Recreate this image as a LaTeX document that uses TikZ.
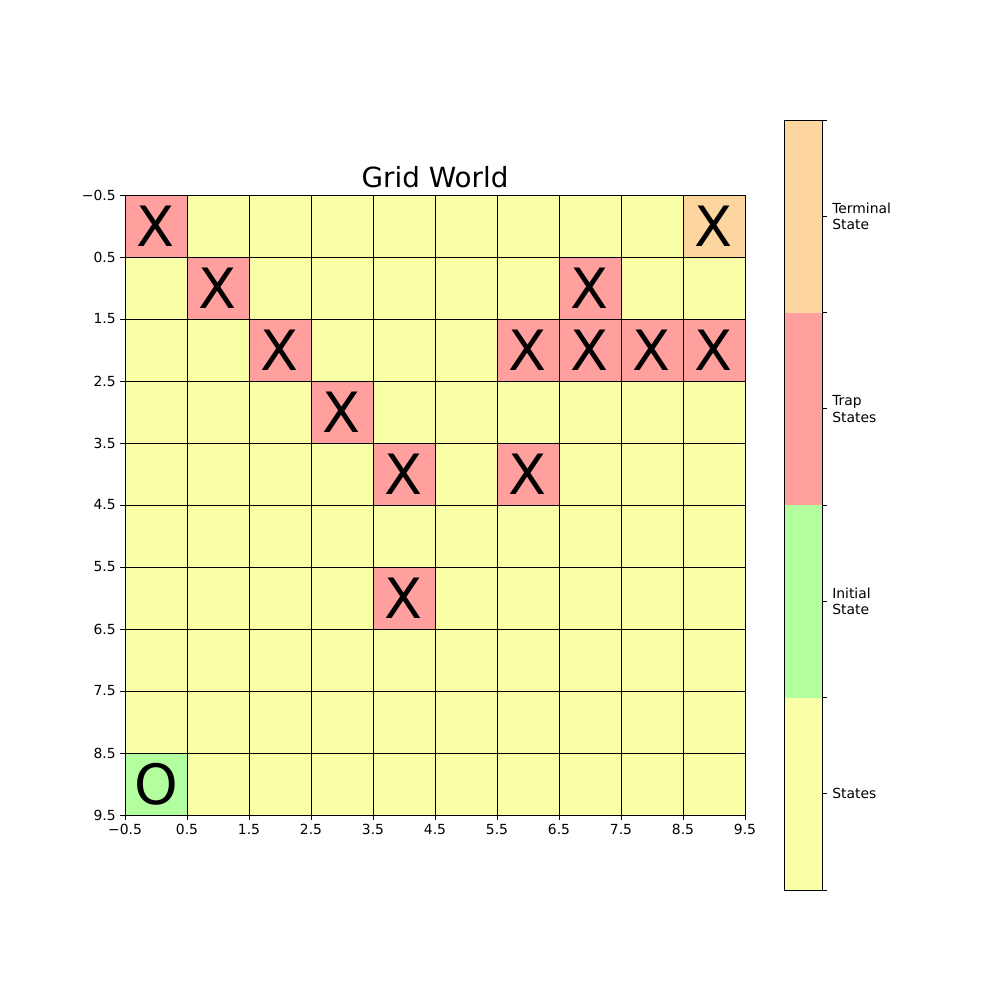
\documentclass[tikz,border=0pt]{standalone}
\usepackage{fontspec}
\setmainfont{DejaVu Sans}
\definecolor{cyel}{RGB}{248,255,166}
\definecolor{cred}{RGB}{255,160,158}
\definecolor{cgrn}{RGB}{179,255,160}
\definecolor{corg}{RGB}{253,213,158}
\tikzset{
  gridline/.style={line width=0.7pt, black},
  ticklab/.style={font=\fontsize{10}{12}\selectfont, inner sep=0pt},
  cellmark/.style={font=\fontsize{40}{40}\selectfont, inner sep=0pt},
  cbarlab/.style={font=\fontsize{10}{12}\selectfont, inner sep=0pt, align=left, anchor=west},
}
\begin{document}
\begin{tikzpicture}[x=0.72pt,y=-0.72pt]
\useasboundingbox (0,0) rectangle (1000,1000);
% background cells
\fill[cyel] (125,195) rectangle (745,815);
% trap cells
\foreach \r/\c in {0/0,1/1,1/7,2/2,2/6,2/7,2/8,2/9,3/3,4/4,4/6,6/4}{
  \fill[cred] ({125+62*\c},{195+62*\r}) rectangle ++(62,62);
  \node[cellmark] (x\r\c) at ({156+62*\c},{226+62*\r}) {X};
}
\fill[corg] (683,195) rectangle ++(62,62);
\node[cellmark] (x09) at (714,226) {X};
\fill[cgrn] (125,753) rectangle ++(62,62);
\node[cellmark] (o90) at (156,784) {O};
% grid lines and ticks
\foreach \i in {0,...,10}{
  \draw[gridline] ({125+62*\i},195) -- ({125+62*\i},815);
  \draw[gridline] (125,{195+62*\i}) -- (745,{195+62*\i});
  \draw[gridline] (120,{195+62*\i}) -- (125,{195+62*\i});
  \draw[gridline] ({125+62*\i},815) -- ({125+62*\i},820);
}
\foreach \i/\t in {0/{−0.5},1/0.5,2/1.5,3/2.5,4/3.5,5/4.5,6/5.5,7/6.5,8/7.5,9/8.5,10/9.5}{
  \node[ticklab, anchor=east] (yl\i) at (116,{195+62*\i}) {\t};
  \node[ticklab, anchor=north] (xl\i) at ({125+62*\i},824) {\t};
}
% title
\node[font=\fontsize{20}{24}\selectfont, inner sep=0pt, anchor=base] (title) at (435,187) {Grid World};
% colorbar
\fill[cyel] (784,697.5) rectangle (822,890);
\fill[cgrn] (784,505) rectangle (822,697.5);
\fill[cred] (784,312.5) rectangle (822,505);
\fill[corg] (784,120) rectangle (822,312.5);
\draw[gridline] (784,120) rectangle (822,890);
\foreach \y in {120,312.5,505,697.5,890,216.25,408.75,601.25,793.75}{
  \draw[gridline] (822,\y) -- (827,\y);
}
\node[cbarlab] (lt) at (832,216.25) {Terminal\\State};
\node[cbarlab] (ltr) at (832,408.75) {Trap\\States};
\node[cbarlab] (li) at (832,601.25) {Initial\\State};
\node[cbarlab] (ls) at (832,793.75) {States};
\end{tikzpicture}
\end{document}
